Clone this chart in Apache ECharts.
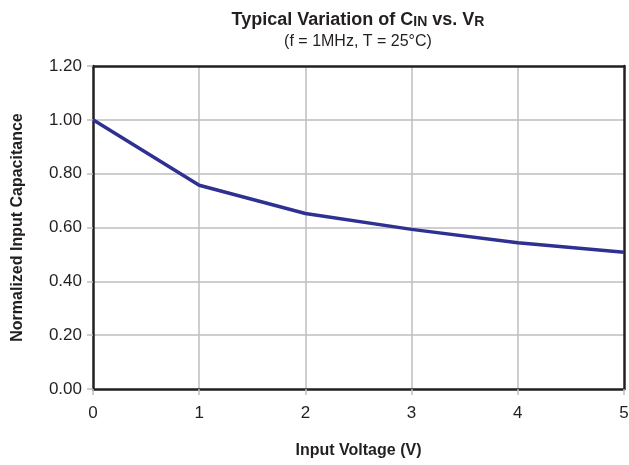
<!DOCTYPE html>
<html><head><meta charset="utf-8">
<script src="https://cdn.jsdelivr.net/npm/echarts@6/dist/echarts.min.js"></script>
<style>html,body{margin:0;padding:0;background:#fff}#c{width:629px;height:465px}</style>
</head><body><div id="c"></div>
<script>
const voltages = [0, 1, 2, 3, 4, 5];
const capacitance = [1.00, 0.757, 0.652, 0.593, 0.543, 0.508];
const yTicks = ['0.00','0.20','0.40','0.60','0.80','1.00','1.20'];

const font = '"Liberation Sans", Arial, Helvetica, sans-serif';
const ink = '#231f20';
const gridGray = '#bcbec0';
const chart = echarts.init(document.getElementById('c'));
chart.setOption({
  animation: false,
  title: [{
    text: '{m|Typical Variation of C}{s|IN}{m| vs. V}{s|R}',
    left: 353, top: 2, textAlign: 'center',
    textStyle: {
      rich: {
        m: {fontFamily: font, fontWeight: 'bold', fontSize: 18, color: ink, lineHeight: 22, verticalAlign: 'bottom'},
        s: {fontFamily: font, fontWeight: 'bold', fontSize: 14, color: ink, lineHeight: 22, verticalAlign: 'bottom', padding: [5, 0, 0, 0]}
      }
    }
  }, {
    text: '(f = 1MHz, T = 25°C)',
    left: 353, top: 29, textAlign: 'center',
    textStyle: {fontFamily: font, fontWeight: 'normal', fontSize: 16, color: ink}
  }],
  grid: {left: 93, right: 5, top: 66, bottom: 76, outerBoundsMode: 'none', containLabel: false,
         show: false},
  xAxis: [{
    type: 'value', min: 0, max: 5, interval: 1,
    name: 'Input Voltage (V)', nameLocation: 'middle', nameGap: 54,
    nameTextStyle: {fontFamily: font, fontWeight: 'bold', fontSize: 16, color: ink},
    axisLine: {show: true, onZero: false, lineStyle: {color: ink, width: 2.5}},
    axisTick: {show: true, length: 6, lineStyle: {color: gridGray, width: 1.5}},
    axisLabel: {fontFamily: font, fontSize: 17, color: ink, margin: 16},
    splitLine: {show: true, showMinLine: false, showMaxLine: false, lineStyle: {color: gridGray, width: 1.5}}
  }, {
    type: 'value', min: 0, max: 5, interval: 1, position: 'top',
    axisLine: {show: true, onZero: false, lineStyle: {color: ink, width: 2.5}},
    axisTick: {show: false}, axisLabel: {show: false}, splitLine: {show: false}
  }],
  yAxis: [{
    type: 'value', min: 0, max: 1.2, interval: 0.2,
    name: 'Normalized Input Capacitance', nameLocation: 'middle', nameGap: 67,
    nameTextStyle: {fontFamily: font, fontWeight: 'bold', fontSize: 16, color: ink},
    axisLine: {show: true, onZero: false, lineStyle: {color: ink, width: 2.5}},
    axisTick: {show: true, length: 6, lineStyle: {color: gridGray, width: 1.5}},
    axisLabel: {fontFamily: font, fontSize: 17, color: ink, margin: 11,
      formatter: (v) => yTicks[Math.round(v / 0.2)]},
    splitLine: {show: true, showMinLine: false, showMaxLine: false, lineStyle: {color: gridGray, width: 1.5}}
  }, {
    type: 'value', min: 0, max: 1.2, interval: 0.2, position: 'right',
    axisLine: {show: true, onZero: false, lineStyle: {color: ink, width: 2.5}},
    axisTick: {show: false}, axisLabel: {show: false}, splitLine: {show: false}
  }],
  series: [{
    type: 'line',
    data: voltages.map((v, i) => [v, capacitance[i]]),
    showSymbol: false,
    lineStyle: {color: '#2e3192', width: 3.5},
    z: 1
  }]
});
</script></body></html>
